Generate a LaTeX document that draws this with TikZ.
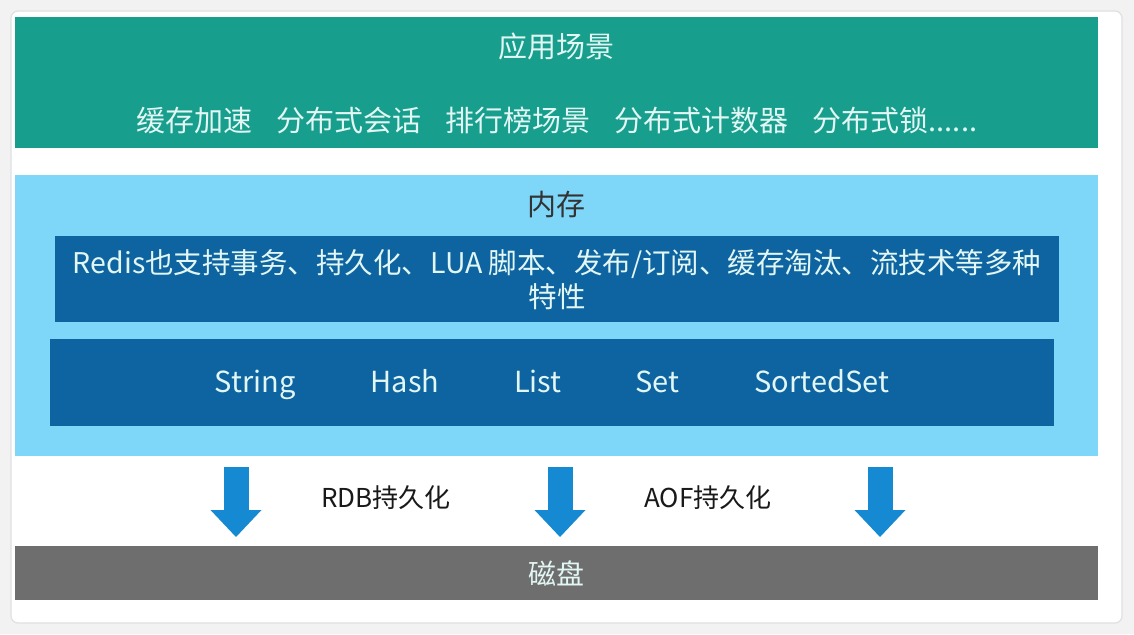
\documentclass[tikz,border=0pt]{standalone}
\usepackage{fontspec}
\setmainfont{Noto Sans CJK SC}
\usepackage{xcolor}
\usepackage{tikz}
\usetikzlibrary{positioning,arrows.meta}
\definecolor{PageGrey}{RGB}{242,242,242}
\definecolor{CardEdge}{RGB}{222,224,226}
\definecolor{SceneGreen}{RGB}{24,158,140}
\definecolor{MemBlue}{RGB}{126,214,248}
\definecolor{DeepBlue}{RGB}{14,100,160}
\definecolor{FlowBlue}{RGB}{22,137,211}
\definecolor{DiskGrey}{RGB}{110,110,110}
\definecolor{PaleText}{RGB}{226,246,244}

\begin{document}
\begin{tikzpicture}[
  x=1pt, y=-1pt,
  every node/.style={font=\fontsize{29}{34}\selectfont, align=center, inner sep=0pt},
  band/.style={minimum width=1083pt, anchor=north west},
  inner/.style={fill=DeepBlue, minimum width=1004pt, anchor=north west, text=PaleText},
  dtype/.style={text=PaleText, anchor=base},
  flow/.style={-{Triangle[length=27pt, width=51pt, line width=0pt]}, line width=25pt, draw=FlowBlue,
    shorten <=11pt, shorten >=9pt},
  tag/.style={font=\fontsize{26}{30}\selectfont, text=black!90}
]
\useasboundingbox (0,0) rectangle (1134,634);
\fill[PageGrey] (0,0) rectangle (1134,634);
\filldraw[fill=white, draw=CardEdge, line width=1.2pt, rounded corners=7pt] (11,11) rectangle (1122,623);

% 应用场景
\node[band, fill=SceneGreen, minimum height=131pt] (scene) at (15,17) {};
\node[text=PaleText] (scenetitle) at (556,46) {应用场景};
\node[text=PaleText] (sceneitems) at (557,120)
  {缓存加速\hspace{24pt}分布式会话\hspace{24pt}排行榜场景\hspace{24pt}分布式计数器\hspace{24pt}分布式锁......};

% 内存
\node[band, fill=MemBlue, minimum height=281pt] (mem) at (15,175) {};
\node[text=black!80] (memtitle) at (556,205) {内存};
\node[inner, minimum height=86pt, font=\fontsize{28.5}{34}\selectfont] (features) at (55,236)
  {Redis也支持事务、持久化、LUA 脚本、发布/订阅、缓存淘汰、流技术等多种\\特性};
\node[inner, minimum height=87pt] (types) at (50,339) {};
\node[dtype] (string) at (255,392) {String};
\node[dtype] (hash) at (405,392) {Hash};
\node[dtype] (list) at (538,392) {List};
\node[dtype] (set) at (657,392) {Set};
\node[dtype] (sorted) at (822,392) {SortedSet};

% 磁盘
\node[band, fill=DiskGrey, minimum height=54pt, text=PaleText, font=\fontsize{28}{32}\selectfont] (disk) at (15,546) {磁盘};

\coordinate (left) at (236,0);
\coordinate (mid) at (560,0);
\coordinate (right) at (880,0);
\draw[flow] (left |- mem.south) -- (left |- disk.north);
\draw[flow] (mid |- mem.south) -- (mid |- disk.north);
\draw[flow] (right |- mem.south) -- (right |- disk.north);
\node[tag] (rdb) at (386,498) {RDB持久化};
\node[tag] (aof) at (708,498) {AOF持久化};
\end{tikzpicture}
\end{document}
